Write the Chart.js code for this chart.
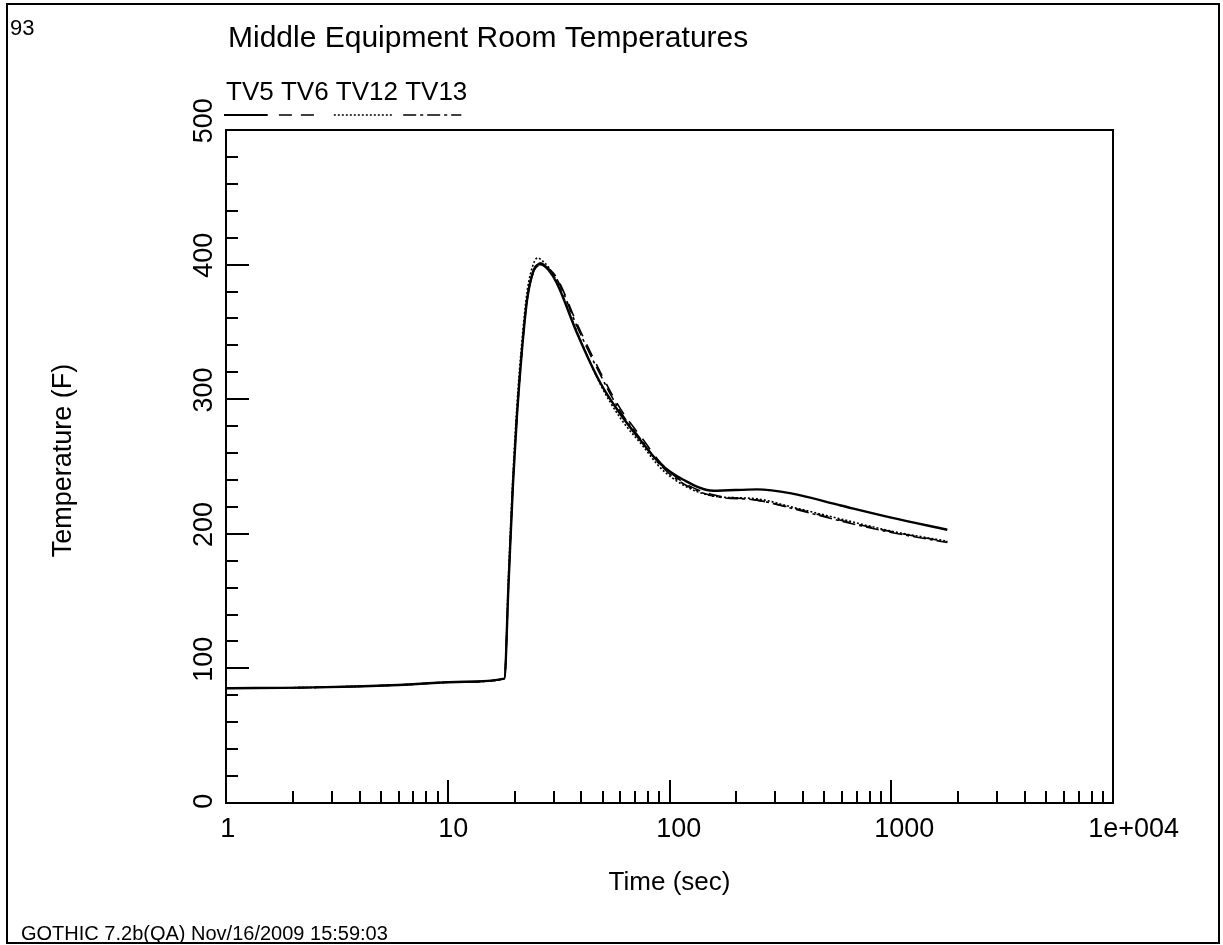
<!DOCTYPE html>
<html>
<head>
<meta charset="utf-8">
<script src="https://cdn.jsdelivr.net/npm/chart.js@4.4.1/dist/chart.umd.min.js"></script>
<style>
  html, body { margin: 0; padding: 0; background: #fff; }
  #wrap { position: relative; width: 1223px; height: 945px; }
</style>
</head>
<body>
<div id="wrap"><canvas id="temp-chart" width="1223" height="945"></canvas></div>
<script>
// time (sec), shared by all four series
const times = [1, 2.5, 6, 12, 18, 18.8, 19.7, 20.5, 21.6, 22.8, 24.4, 25.5, 26.2, 28.5, 31.1, 38.3, 48.8, 60, 76, 91, 116, 158, 248, 354, 592, 1000, 1790];

// temperatures (F)
const tv5  = [85.3, 85.9, 87.7, 90.1, 92.4, 163, 238, 287, 336, 374, 396, 400, 401, 396, 386, 349, 312, 289, 267, 252, 240, 232, 233, 230, 221, 212, 203];
const tv6  = [85.3, 85.9, 87.7, 90.1, 92.4, 163, 238, 287, 336, 374, 395, 399, 400, 397, 390, 356, 320, 293, 270, 253, 238, 229, 225, 219.5, 210, 201.6, 194];
const tv12 = [85.3, 85.9, 87.7, 90.1, 92.4, 170, 245, 295, 343, 380, 401, 405, 404, 398, 387, 350, 311, 286, 265, 249, 236, 228, 226, 220, 211, 202, 194.5];
const tv13 = [85.3, 85.9, 87.7, 90.1, 92.4, 163, 238, 287, 336, 374, 395, 399, 400, 396, 389, 354, 318, 291, 268, 251, 237, 228, 225, 219, 209.5, 201, 193.5];

const seriesNames = ['TV5', 'TV6', 'TV12', 'TV13'];
const seriesValues = [tv5, tv6, tv12, tv13];
const seriesDash = [[], [13, 9], [2, 2], [13, 4, 3, 4]];
const seriesWidth = [2.4, 1.6, 1.6, 1.6];

const xMajorTicks = [1, 10, 100, 1000, 10000];
const xTickLabels = ['1', '10', '100', '1000', '1e+004'];
const yMajorTicks = [0, 100, 200, 300, 400, 500];
const yTickLabels = ['0', '100', '200', '300', '400', '500'];

const FONT = '"Liberation Sans", Arial, sans-serif';

const framePlugin = {
    id: 'gothicFrame',
    afterDraw(chart) {
        const ctx = chart.ctx;
        const a = chart.chartArea;
        const xs = chart.scales.x;
        const ys = chart.scales.y;
        ctx.save();
        ctx.strokeStyle = '#000';
        ctx.fillStyle = '#000';
        ctx.lineWidth = 2;
        ctx.setLineDash([]);

        // plot box
        ctx.strokeRect(a.left, a.top, a.right - a.left, a.bottom - a.top);

        // x ticks, pointing into the plot
        ctx.beginPath();
        for (let d = 1; d < 10000; d *= 10) {
            for (let k = 1; k <= 9; k++) {
                const px = Math.round(xs.getPixelForValue(d * k));
                const len = k === 1 ? 23 : 12;
                ctx.moveTo(px, a.bottom);
                ctx.lineTo(px, a.bottom - len);
            }
        }
        // y ticks
        for (let v = 0; v <= 500; v += 20) {
            const py = Math.round(ys.getPixelForValue(v));
            const len = v % 100 === 0 ? 23 : 12;
            ctx.moveTo(a.left, py);
            ctx.lineTo(a.left + len, py);
        }
        ctx.stroke();

        // x tick labels
        ctx.font = '27px ' + FONT;
        ctx.textBaseline = 'alphabetic';
        ctx.textAlign = 'left';
        xMajorTicks.forEach((v, i) => {
            const px = xs.getPixelForValue(v);
            const w = ctx.measureText(xTickLabels[i]).width;
            ctx.fillText(xTickLabels[i], px - 0.25 * w - 2, 837);
        });

        // y tick labels, rotated
        yMajorTicks.forEach((v, i) => {
            const py = ys.getPixelForValue(v);
            const w = ctx.measureText(yTickLabels[i]).width;
            ctx.save();
            ctx.translate(212, py + 0.25 * w + 2);
            ctx.rotate(-Math.PI / 2);
            ctx.fillText(yTickLabels[i], 0, 0);
            ctx.restore();
        });

        // axis titles
        ctx.textAlign = 'center';
        ctx.font = '26px ' + FONT;
        ctx.fillText('Time (sec)', (a.left + a.right) / 2, 890);
        ctx.font = '27px ' + FONT;
        ctx.save();
        ctx.translate(71, (a.top + a.bottom) / 2 - 6);
        ctx.rotate(-Math.PI / 2);
        ctx.fillText('Temperature (F)', 0, 0);
        ctx.restore();

        // chart title
        ctx.textAlign = 'left';
        ctx.font = '30px ' + FONT;
        ctx.fillText('Middle Equipment Room Temperatures', 228, 47);

        // legend: names above line samples
        ctx.font = '26px ' + FONT;
        const space = ctx.measureText(' ').width;
        let lx = a.left;
        seriesNames.forEach((name, i) => {
            const w = ctx.measureText(name).width;
            ctx.fillText(name, lx, 100);
            ctx.save();
            ctx.lineWidth = i === 0 ? 2 : 1.6;
            ctx.setLineDash(seriesDash[i]);
            ctx.beginPath();
            ctx.moveTo(lx - 2, 115);
            ctx.lineTo(lx + w - 6, 115);
            ctx.stroke();
            ctx.restore();
            lx += w + space;
        });

        // page number and footer
        ctx.font = '22px ' + FONT;
        ctx.fillText('93', 10, 35);
        ctx.font = '20px ' + FONT;
        ctx.fillText('GOTHIC 7.2b(QA) Nov/16/2009 15:59:03', 21, 940);

        // outer border
        ctx.lineWidth = 2;
        ctx.strokeRect(7, 4, 1212, 939);
        ctx.restore();
    }
};

const ctx = document.getElementById('temp-chart');
new Chart(ctx, {
    type: 'line',
    data: {
        datasets: seriesNames.map((name, i) => ({
            label: name,
            data: times.map((t, j) => ({ x: t, y: seriesValues[i][j] })),
            borderColor: '#000',
            borderWidth: seriesWidth[i],
            borderDash: seriesDash[i],
            pointRadius: 0,
            fill: false,
            cubicInterpolationMode: 'monotone'
        }))
    },
    options: {
        responsive: false,
        animation: false,
        devicePixelRatio: 1,
        layout: { padding: { left: 226, top: 130, right: 110, bottom: 142 } },
        scales: {
            x: { type: 'logarithmic', min: 1, max: 10000, display: false },
            y: { type: 'linear', min: 0, max: 500, display: false }
        },
        plugins: {
            legend: { display: false },
            tooltip: { enabled: false }
        }
    },
    plugins: [framePlugin]
});
</script>
</body>
</html>
